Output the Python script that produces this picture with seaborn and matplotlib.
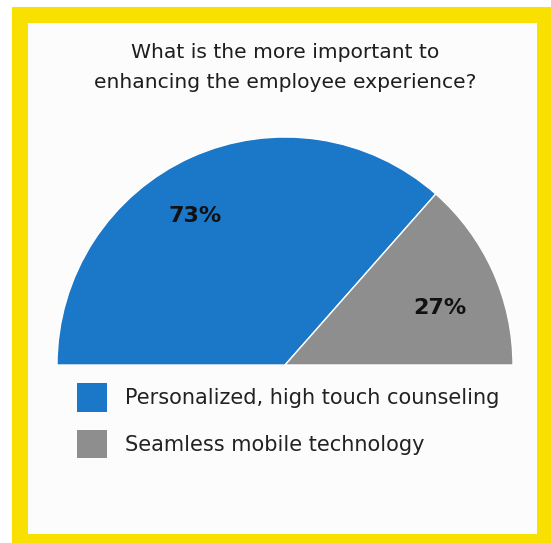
import matplotlib
matplotlib.use("Agg")
import matplotlib.pyplot as plt
from matplotlib.patches import Rectangle, Patch
import seaborn as sns
import numpy as np

# ---- data ----
title_lines = ["What is the more important to", "enhancing the employee experience?"]
categories = ["Personalized, high touch counseling", "Seamless mobile technology"]
values = [73, 27]
labels = ["73%", "27%"]
colors = ["#1b77c8", "#8e8e8e"]

sns.set_theme(style="white")
plt.rcParams['font.family'] = ['DejaVu Sans']

W, H = 551, 543
fig = plt.figure(figsize=(W / 100, H / 100), dpi=100)
fig.patch.set_facecolor("white")

# overlay axes in pixel coordinates (for frame and title)
bg = fig.add_axes([0, 0, 1, 1])
bg.set_xlim(0, W)
bg.set_ylim(H, 0)
bg.axis("off")
yellow = "#f8e000"
bg.add_patch(Rectangle((12, 7), W - 12, H - 7, facecolor=yellow, edgecolor="none"))
bg.add_patch(Rectangle((28, 23), 537 - 28, 534 - 23, facecolor="#fcfcfc", edgecolor="none"))

bg.text(285, 52, title_lines[0], ha="center", va="center", fontsize=14.6, color="#1e1e1e")
bg.text(285, 82, title_lines[1], ha="center", va="center", fontsize=14.6, color="#1e1e1e")

# semicircle pie axes: center (285,365), radius 228 px
cx, cy, r = 285, 365, 228
pax = fig.add_axes([(cx - r) / W, (H - cy) / H, 2 * r / W, r / H])
total = sum(values)
wedges, _ = pax.pie(values + [total], colors=colors + ["none"], startangle=180,
                    counterclock=False, radius=1, center=(0, 0), frame=True,
                    wedgeprops=dict(linewidth=1.0, edgecolor="white"))
wedges[2].set_edgecolor("none")
pax.set_xlim(-1, 1)
pax.set_ylim(0, 1)
pax.set_aspect("auto")
pax.axis("off")

# percent labels
label_pos = [(-0.395, 0.655), (0.68, 0.25)]
for (lx, ly), t in zip(label_pos, labels):
    pax.text(lx, ly, t, ha="center", va="center", fontsize=16, fontweight="bold", color="#111111")

# legend
handles = [Patch(facecolor=c, edgecolor="none") for c in colors]
leg = fig.legend(handles, categories, loc="upper left", bbox_to_anchor=(77 / W, 1 - 383 / H),
                 frameon=False, fontsize=15, handlelength=1.45, handleheight=1.75,
                 handletextpad=0.85, labelspacing=0.85, borderaxespad=0, borderpad=0,
                 labelcolor="#222222")

fig.savefig("out.png", dpi=100)
